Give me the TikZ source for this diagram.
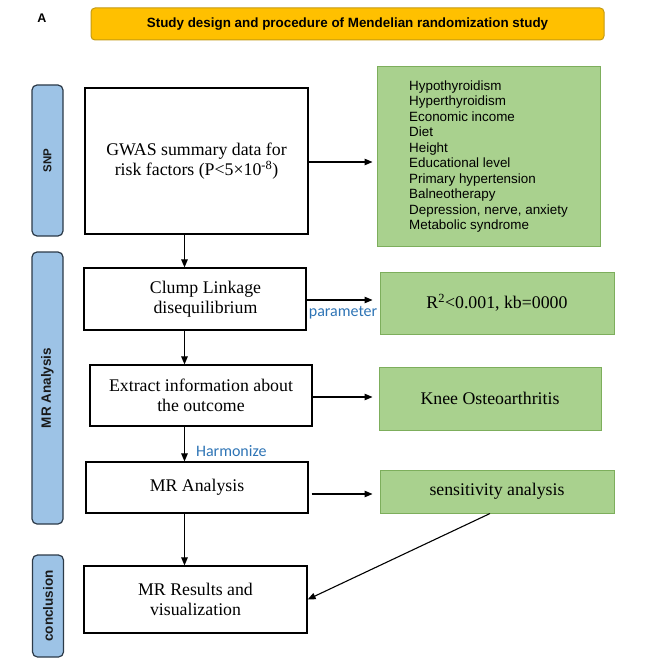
\documentclass[tikz,border=0pt]{standalone}
\usepackage{fontspec}
\setmainfont{Liberation Serif}
\setsansfont{Liberation Sans}
\newfontfamily\notefont{Carlito}
\usetikzlibrary{arrows.meta}

\definecolor{titleorange}{HTML}{FFC000}
\definecolor{titleedge}{HTML}{C49A12}
\definecolor{tabblue}{HTML}{9DC3E6}
\definecolor{tabedge}{HTML}{2C3A48}
\definecolor{boxgreen}{HTML}{A9D18E}
\definecolor{greenedge}{HTML}{7DAE5C}
\definecolor{noteblue}{HTML}{2E74B5}

\tikzset{
  stepbox/.style={draw=black, line width=1.2pt, fill=white, align=center, inner sep=0pt,
    font=\fontsize{17.8}{20}\selectfont},
  greenbox/.style={draw=greenedge, line width=1pt, fill=boxgreen, align=center, inner sep=0pt,
    font=\fontsize{17.8}{20}\selectfont},
  sidetab/.style={draw=tabedge, line width=1.2pt, fill=tabblue, rounded corners=5pt,
    minimum width=31pt, inner sep=0pt},
  tabtext/.style={rotate=90, text=black!90, font=\sffamily\bfseries\fontsize{13.5}{15}\selectfont},
  flow/.style={-{Triangle[length=8pt,width=6.5pt]}, line width=1.1pt},
  note/.style={text=noteblue, inner sep=0pt, font=\notefont\fontsize{16}{18}\selectfont}
}

\begin{document}
\begin{tikzpicture}[x=1pt, y=-1pt]
  \useasboundingbox (0,0) rectangle (651,663);

  % 1. title bar
  \node[font=\sffamily\bfseries\fontsize{12.5}{14}\selectfont] (panel) at (42,18) {A};
  \node[draw=titleedge, line width=1pt, fill=titleorange, rounded corners=4pt,
        minimum width=513pt, minimum height=32pt, inner sep=0pt,
        font=\sffamily\bfseries\fontsize{13.4}{15}\selectfont] (title) at (347.5,24)
        {Study design and procedure of Mendelian randomization study};

  % 2. side tabs
  \node[sidetab, minimum height=151pt] (tabsnp) at (47.5,160.5) {};
  \node[tabtext, font=\sffamily\bfseries\fontsize{11.5}{13}\selectfont] at (tabsnp) {SNP};
  \node[sidetab, minimum height=272pt] (tabmr) at (47.5,388) {};
  \node[tabtext] at (tabmr) {MR Analysis};
  \node[sidetab, minimum height=102pt] (tabcon) at (48,606) {};
  \node[tabtext] at (tabcon) {conclusion};

  % 3. main steps
  \node[stepbox, minimum width=223pt, minimum height=146pt] (gwas) at (196.5,161)
        {GWAS summary data for\\risk factors (P<5×10\textsuperscript{-8})};
  \node[stepbox, minimum width=222pt, minimum height=62pt] (clump) at (195,299)
        {\hspace*{21pt}Clump Linkage\\\hspace*{21pt}disequilibrium};
  \node[stepbox, minimum width=222pt, minimum height=61pt] (extract) at (201,395.5)
        {Extract information about\\the outcome};
  \node[stepbox, minimum width=222pt, minimum height=51pt] (mra) at (197,487.5)
        {MR Analysis};
  \node[stepbox, minimum width=223pt, minimum height=67pt] (results) at (195.5,599.5)
        {MR Results and\\visualization};

  % 4. green boxes on the right
  \node[greenbox, align=left, minimum width=223pt, minimum height=179pt,
        font=\sffamily\fontsize{13.4}{15.45}\selectfont] (factors) at (488.5,156.5)
        {Hypothyroidism\\Hyperthyroidism\\Economic income\\Diet\\Height\\Educational level\\
         Primary hypertension\\Balneotherapy\\Depression, nerve, anxiety\\Metabolic syndrome};
  \node[greenbox, minimum width=234pt, minimum height=62pt] (param) at (497,303)
        {R\textsuperscript{2}<0.001, kb=0000};
  \node[greenbox, minimum width=222pt, minimum height=63pt] (knee) at (490,398.5)
        {Knee Osteoarthritis};
  \node[greenbox, minimum width=234pt, minimum height=43pt] (sens) at (497,491.5)
        {sensitivity analysis};

  % 5. connectors
  \coordinate (spine) at (184.5,0);
  \draw[flow] (gwas.south -| spine) -- (clump.north -| spine);
  \draw[flow] (clump.south -| spine) -- (extract.north -| spine);
  \draw[flow] (extract.south -| spine) -- (mra.north -| spine)
        node[note, midway, anchor=west, xshift=11pt, yshift=-7.5pt] {Harmonize};
  \draw[flow] (mra.south -| spine) -- (results.north -| spine);

  \draw[flow, shorten >=4pt] ([yshift=-1pt]gwas.east) -- ([yshift=-1pt]gwas.east -| factors.west);
  \draw[flow, shorten >=7pt] ([yshift=-1pt]clump.east) -- ([yshift=-1pt]clump.east -| param.west)
        node[note, midway, yshift=-13pt] {parameter};
  \draw[flow, shorten >=6pt] ([yshift=-1.5pt]extract.east) -- ([yshift=-1.5pt]extract.east -| knee.west);
  \draw[flow, shorten >=7pt] ([xshift=3pt, yshift=-6.5pt]mra.east) -- ([yshift=-6.5pt]mra.east -| sens.west);
  \draw[flow] ([xshift=-7pt]sens.south) -- (results.east);
\end{tikzpicture}
\end{document}
